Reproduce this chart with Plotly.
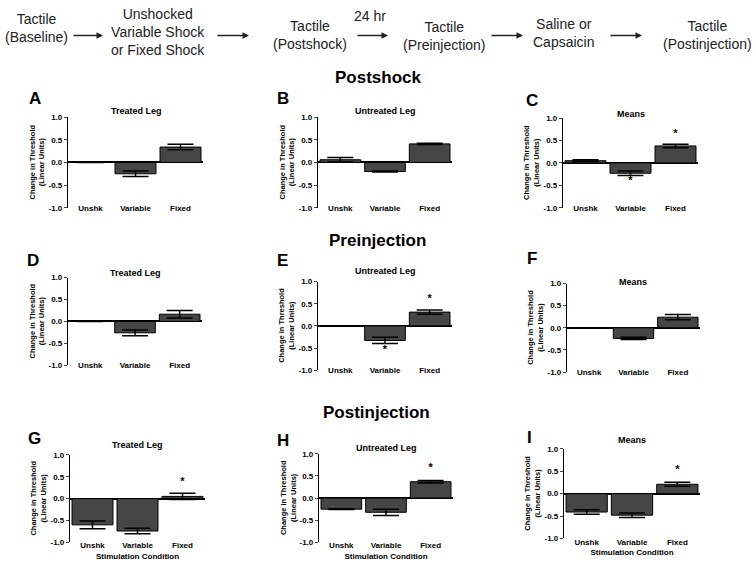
import plotly.graph_objects as go

W, H = 754, 572

categories = ["Unshk", "Variable", "Fixed"]

A_mean = [0.0, -0.25, 0.34];  A_sem = [0.0, 0.06, 0.06]
B_mean = [0.06, -0.20, 0.41]; B_sem = [0.05, 0.012, 0.015]
C_mean = [0.05, -0.23, 0.38]; C_sem = [0.02, 0.05, 0.04]
D_mean = [0.0, -0.26, 0.165]; D_sem = [0.0, 0.065, 0.085]
E_mean = [0.0, -0.33, 0.31];  E_sem = [0.0, 0.07, 0.05]
F_mean = [0.0, -0.24, 0.24];  F_sem = [0.0, 0.025, 0.06]
G_mean = [-0.60, -0.74, 0.05]; G_sem = [0.09, 0.06, 0.07]
H_mean = [-0.25, -0.32, 0.37]; H_sem = [0.01, 0.07, 0.03]
I_mean = [-0.41, -0.48, 0.21]; I_sem = [0.05, 0.05, 0.045]

# significance stars: (category, y)
C_stars = [("Variable", -0.41), ("Fixed", 0.65)]
E_stars = [("Variable", -0.56), ("Fixed", 0.60)]
G_stars = [("Fixed", 0.37)]
H_stars = [("Fixed", 0.68)]
I_stars = [("Fixed", 0.52)]

panel_titles = ["Treated Leg", "Untreated Leg", "Means"] * 3
panel_letters = ["A", "B", "C", "D", "E", "F", "G", "H", "I"]
y_ticks = [-1.0, -0.5, 0.0, 0.5, 1.0]
y_ticktext = ["-1.0", "-0.5", "0.0", "0.5", "1.0"]

means = [A_mean, B_mean, C_mean, D_mean, E_mean, F_mean, G_mean, H_mean, I_mean]
sems = [A_sem, B_sem, C_sem, D_sem, E_sem, F_sem, G_sem, H_sem, I_sem]
stars = [[], [], C_stars, [], E_stars, [], G_stars, H_stars, I_stars]

# plot boxes in pixels: x0, x1, ytop(=1.0), ybottom(=-1.0)
boxes = [
    (68, 203, 115, 207), (318, 452, 115, 207), (563, 698, 116, 207),
    (68, 202, 278, 367), (318, 452, 282, 372), (567, 700, 284, 374),
    (70, 205, 458, 547), (319, 453, 457, 547), (564, 700, 452, 543),
]
letter_pos = [(35, 96), (283, 96), (532, 98), (33, 261), (282, 261), (532, 259),
              (34, 441), (283, 443), (529, 440)]
title_pos = [(136, 109), (385, 109), (631, 112), (135, 273), (385, 271), (633, 282),
             (137, 448), (386, 451), (632, 443)]

def px(x):
    return x / W

def py(y):
    return 1 - y / H

FONT = "Liberation Sans, Arial, Helvetica, sans-serif"
HFONT = "Liberation Sans, Arial, sans-serif"

fig = go.Figure()
annotations = []

for i in range(9):
    k = "" if i == 0 else str(i + 1)
    xa, ya = "x" + k, "y" + k
    x0, x1, yt, yb = boxes[i]
    fig.add_trace(go.Bar(
        x=categories, y=means[i], xaxis=xa, yaxis=ya,
        marker=dict(color="#464646", line=dict(color="black", width=1)),
        error_y=dict(type="data", array=sems[i], visible=True, color="black",
                     thickness=1.5, width=13),
        showlegend=False, hoverinfo="skip",
    ))
    if stars[i]:
        fig.add_trace(go.Scatter(
            x=[s[0] for s in stars[i]], y=[s[1] for s in stars[i]],
            xaxis=xa, yaxis=ya, mode="text", text=["*"] * len(stars[i]),
            textfont=dict(family=FONT, size=11, color="black", weight="bold"),
            textposition="middle center", showlegend=False, hoverinfo="skip",
        ))
    lab_off = 6 if i < 6 else 3
    fig.layout[("xaxis" + k)] = dict(
        domain=[px(x0), px(x1)], range=[-0.5, 2.5], anchor="free",
        position=py(yb - lab_off), showline=False, ticks="", showgrid=False,
        zeroline=False, tickfont=dict(family=FONT, size=8, color="black", weight="bold"),
        title=dict(text="Stimulation Condition" if i >= 6 else "",
                   font=dict(family=FONT, size=8, color="black", weight="bold"),
                   standoff=3),
    )
    fig.layout[("yaxis" + k)] = dict(
        domain=[py(yb), py(yt)], range=[-1.0, 1.0], anchor=xa,
        tickvals=y_ticks, ticktext=y_ticktext, ticks="outside", ticklen=3,
        tickwidth=1.2, showline=True, linecolor="black", linewidth=1.2,
        showgrid=False, zeroline=True, zerolinecolor="black", zerolinewidth=1.5,
        tickfont=dict(family=FONT, size=8, color="black", weight="bold"),
    )
    # y-axis title
    annotations.append(dict(
        x=px(x0 - 31), y=py((yt + yb) / 2), xref="paper", yref="paper",
        text="Change in Threshold<br>(Linear Units)", textangle=-90,
        showarrow=False, xanchor="center", yanchor="middle",
        font=dict(family=FONT, size=7.5, color="black", weight="bold"),
    ))
    # panel title
    annotations.append(dict(
        x=px(title_pos[i][0]), y=py(title_pos[i][1]), xref="paper", yref="paper",
        text=panel_titles[i], showarrow=False, xanchor="center", yanchor="middle",
        font=dict(family=FONT, size=9, color="black", weight="bold"),
    ))
    # panel letter
    annotations.append(dict(
        x=px(letter_pos[i][0]), y=py(letter_pos[i][1]), xref="paper", yref="paper",
        text=panel_letters[i], showarrow=False, xanchor="center", yanchor="middle",
        font=dict(family=FONT, size=17, color="black", weight="bold"),
    ))

# section headings
for txt, x, y in [("Postshock", 378, 75), ("Preinjection", 377, 240), ("Postinjection", 376, 415)]:
    annotations.append(dict(
        x=px(x), y=py(y), xref="paper", yref="paper", text=txt, showarrow=False,
        xanchor="center", yanchor="middle",
        font=dict(family=FONT, size=17, color="black", weight="bold"),
    ))

# flow header
flow_steps = ["Tactile<br>(Baseline)", "Unshocked<br>Variable Shock<br>or Fixed Shock",
              "Tactile<br>(Postshock)", "Tactile<br>(Preinjection)",
              "Saline or<br>Capsaicin", "Tactile<br>(Postinjection)"]
flow_pos = [(36, 24), (158, 28), (310, 31), (444, 33), (563, 29), (707, 32)]
for txt, (x, y) in zip(flow_steps, flow_pos):
    annotations.append(dict(
        x=px(x), y=py(y), xref="paper", yref="paper", text=txt, showarrow=False,
        xanchor="center", yanchor="middle",
        font=dict(family=HFONT, size=14, color="#222222"),
    ))
annotations.append(dict(
    x=px(370), y=py(12), xref="paper", yref="paper", text="24 hr", showarrow=False,
    xanchor="center", yanchor="middle", font=dict(family=HFONT, size=14, color="#222222"),
))
for xa_, xb_ in [(72, 103), (216, 249), (356, 388), (490, 523), (609, 642)]:
    annotations.append(dict(
        x=px(xb_), y=py(32), xref="paper", yref="paper", ax=-(xb_ - xa_), ay=0,
        axref="pixel", ayref="pixel", text="", showarrow=True, arrowhead=2,
        arrowsize=1, arrowwidth=1.3, arrowcolor="#222222",
    ))

fig.update_layout(
    width=W, height=H, autosize=False,
    margin=dict(l=0, r=0, t=0, b=0),
    paper_bgcolor="white", plot_bgcolor="white",
    bargap=0.09, annotations=annotations,
    font=dict(family=FONT, color="black"),
)

fig.write_html("out.html", config={"displayModeBar": False},
               post_script="document.body.style.margin='0px';")
